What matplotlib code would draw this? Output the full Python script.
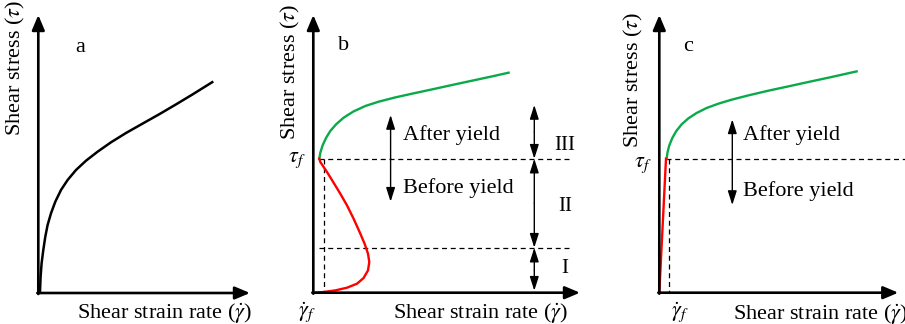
#!/usr/bin/env python3

'''
Three sketches of flow curves: a plain shear-thinning curve (a), a
non-monotonic curve with an unstable branch below the yield stress (b)
and a simple yield-stress curve (c).
'''

import matplotlib
matplotlib.use('Agg')
import matplotlib.pyplot as plt

# panel a: shear-thinning curve (strain rate, stress)
A_RATE = [0.7, 1.7, 2.3, 3.3, 5, 7, 9.3, 12.7, 17, 22.7, 29.3, 37.7, 47.7, 59.3,
          72.7, 87.7, 104.3, 121, 137.7, 154.3, 175]
A_STRESS = [0, 1.3, 16.3, 29.7, 43, 56.3, 68, 79.7, 91.3, 103, 113, 123, 132.3,
            141.3, 150.7, 160, 169.4, 178.8, 188.6, 198.6, 211.5]

# panel b: branch above yield (green) and below yield (red)
B_FLOW_RATE = [6, 7, 9.3, 12.7, 17, 22.7, 30.3, 40.3, 52, 65.3, 82, 98.7, 118.7,
               138.7, 158.7, 178.7, 195.3]
B_FLOW_STRESS = [134, 140, 147.3, 154.7, 161.7, 168.3, 175, 181.3, 186.7, 191,
                 195.3, 199, 203.3, 207.7, 212, 216.3, 220]
B_PRE_RATE = [6, 7, 13.7, 20.3, 27, 33.7, 40.3, 46.3, 51.3, 54.7, 56, 54.7, 50.3,
              43.7, 33.7, 22, 10.3, 0]
B_PRE_STRESS = [134, 130.7, 120.7, 110, 99, 87.3, 74, 60.7, 49, 39, 30.7, 22.3,
                14.7, 9, 5, 2.3, 0.7, 0]
B_YIELD_STRESS = 134
B_YIELD_RATE = 10.3
B_LOWER_STRESS = 45
# regime boundaries (stress) and their labels
B_ZONES = [0, 45, 134, 187.7]
B_ZONE_LABELS = ['I', 'II', 'III']
B_ZONE_LABEL_Y = [24.3, 86, 147.7]

# panel c: rigid part below yield (red) and flow above yield (green)
C_PRE_RATE = [0, 6.7]
C_PRE_STRESS = [0, 134]
C_FLOW_RATE = [7.3, 8.3, 10, 13, 17, 22.3, 29, 37.3, 47.3, 59, 72.3, 89, 109, 129,
               149, 172.3, 197.3]
C_FLOW_STRESS = [134, 140.7, 147.3, 154.7, 161.7, 168.3, 174.3, 179.7, 184.7, 189,
                 193, 197.3, 202, 206.3, 210.7, 215.7, 221.3]
C_YIELD_STRESS = 134
C_YIELD_RATE = 9.3

GREEN = '#0aa94a'
RED = '#ff0000'

plt.rcParams['font.family'] = ['Liberation Serif', 'DejaVu Serif']
plt.rcParams['mathtext.fontset'] = 'stix'

X_LABEL = r'Shear strain rate ($\dot{\gamma}$)'
Y_LABEL = r'Shear stress ($\tau$)'

W, H = 905, 324


def panel_axes(fig, left, right, ox, oy):
    '''one axes per panel, one data unit per pixel, origin at (ox, oy)'''
    ax = fig.add_axes([left / W, 0, (right - left) / W, 1])
    ax.set_xlim(left - ox, right - ox)
    ax.set_ylim(oy - H, oy)
    ax.axis('off')
    return ax


def arrow(ax, start, end, lw, hl, hw, both=False):
    style = '<|-|>' if both else '-|>'
    ax.annotate('', xy=end, xytext=start,
                arrowprops=dict(arrowstyle=f'{style},head_length={hl},head_width={hw}',
                                lw=lw, color='black', shrinkA=0, shrinkB=0,
                                mutation_scale=10))


def draw_frame(ax, xmax, ymax):
    arrow(ax, (-1, 0), (xmax, 0), 1.9, 0.9, 0.38)
    arrow(ax, (0, -1), (0, ymax), 1.9, 0.9, 0.38)


def dashed(ax, xs, ys):
    ax.plot(xs, ys, color='black', lw=0.9, dashes=(4, 3))


def yield_arrow(ax, x, top, bottom, text_x, after_y, before_y):
    arrow(ax, (x, (top + bottom) / 2), (x, top), 1.0, 0.85, 0.27)
    arrow(ax, (x, (top + bottom) / 2), (x, bottom), 1.0, 0.85, 0.27)
    ax.text(text_x, after_y, 'After yield', fontsize=16, va='center', ha='left')
    ax.text(text_x, before_y, 'Before yield', fontsize=16, va='center', ha='left')


def plot_panels():
    fig = plt.figure(figsize=(W / 100, H / 100), dpi=100)

    # --- a ---
    ax = panel_axes(fig, 0, 280, 38.3, 293)
    draw_frame(ax, 211.7, 278)
    ax.plot(A_RATE, A_STRESS, color='black', lw=1.8, solid_capstyle='butt')
    ax.text(41.7, 246, 'a', fontsize=16, ha='center', va='center')
    ax.text(126.7, -20, X_LABEL, fontsize=16, ha='center', va='center')
    ax.text(-23.3, 225, Y_LABEL, fontsize=16, ha='center', va='center', rotation=90)

    # --- b ---
    ax = panel_axes(fig, 280, 620, 313.3, 292.7)
    dashed(ax, [B_PRE_RATE[0], 258], [B_YIELD_STRESS] * 2)
    dashed(ax, [B_PRE_RATE[0], 258], [B_LOWER_STRESS] * 2)
    dashed(ax, [B_YIELD_RATE] * 2, [B_YIELD_STRESS, 0])
    ax.plot(B_FLOW_RATE, B_FLOW_STRESS, color=GREEN, lw=1.7)
    ax.plot(B_PRE_RATE, B_PRE_STRESS, color=RED, lw=1.7)
    draw_frame(ax, 266.7, 277.7)
    for lo, hi in zip(B_ZONES[:-1], B_ZONES[1:]):
        arrow(ax, (221, (lo + hi) / 2), (221, hi), 1.0, 0.85, 0.27)
        arrow(ax, (221, (lo + hi) / 2), (221, max(lo, 2)), 1.0, 0.85, 0.27)
    for lab, y in zip(B_ZONE_LABELS, B_ZONE_LABEL_Y):
        ax.text(251.7, y, lab, fontsize=15, ha='center', va='center')
    yield_arrow(ax, 77.3, 177.7, 91, 89.3, 157.7, 104.3)
    ax.text(30, 247.7, 'b', fontsize=16, ha='center', va='center')
    ax.text(-8, 132.7, r'$\tau_f$', fontsize=16, ha='right', va='center')
    ax.text(-6.7, -20, r'$\dot{\gamma}_f$', fontsize=16, ha='center', va='center')
    ax.text(167.3, -20, X_LABEL, fontsize=16, ha='center', va='center')
    ax.text(-22.7, 221, Y_LABEL, fontsize=16, ha='center', va='center', rotation=90)

    # --- c ---
    ax = panel_axes(fig, 620, 905, 659.3, 292.7)
    dashed(ax, [C_PRE_RATE[-1], 250], [C_YIELD_STRESS] * 2)
    dashed(ax, [C_YIELD_RATE] * 2, [C_YIELD_STRESS, 0])
    ax.plot(C_FLOW_RATE, C_FLOW_STRESS, color=GREEN, lw=1.7)
    ax.plot(C_PRE_RATE, C_PRE_STRESS, color=RED, lw=1.7)
    draw_frame(ax, 239, 277.7)
    yield_arrow(ax, 73, 173.3, 87.7, 84, 157.7, 102)
    ax.text(29, 246, 'c', fontsize=16, ha='center', va='center')
    ax.text(-8, 127.7, r'$\tau_f$', fontsize=16, ha='right', va='center')
    ax.text(20.7, -20, r'$\dot{\gamma}_f$', fontsize=16, ha='center', va='center')
    ax.text(74, -21, X_LABEL, fontsize=16, ha='left', va='center')
    ax.text(-26, 212.7, Y_LABEL, fontsize=16, ha='center', va='center', rotation=90)

    fig.savefig('out.png', dpi=100)


if __name__ == '__main__':
    plot_panels()
